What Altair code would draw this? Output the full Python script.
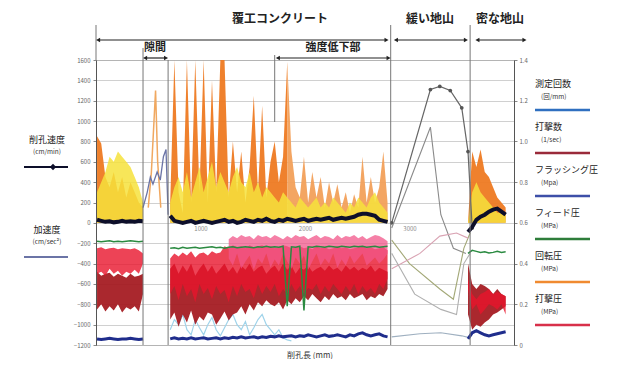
import altair as alt
import pandas as pd

FONT = "Noto Sans CJK JP"

# ---------------- data (x in mm, values on left-axis scale) ----------------
X_A = [10, 50, 90, 130, 170, 210, 250, 290, 330, 370, 410, 450]
X_B = list(range(710, 2800, 40))          # 53 points
X_C = [3560, 3600, 3640, 3680, 3720, 3760, 3800, 3840, 3880, 3920]
X_PINK = list(range(1270, 2800, 40))      # 39 points
X_CYAN = X_B[:30]

# 回転圧 (orange)
ORANGE_A = [850, 780, 450, 350, 500, 300, 450, 250, 400, 300, 200, 150]
ORANGE_B = [200, 1600, 300, 100, 1600, 200, 1600, 300, 1600, 200,
            1400, 300, 1600, 1600, 250, 800, 300, 700, 200, 550,
            1250, 300, 1150, 250, 600, 800, 400, 650, 1580, 700,
            350, 250, 650, 200, 500, 250, 450, 150, 400, 200,
            380, 150, 300, 100, 280, 150, 650, 200, 450, 200,
            350, 700, 200]
ORANGE_C = [0, 700, 550, 720, 500, 450, 350, 250, 200, 150]
GAP_ORANGE_X = [500, 530, 555, 570, 590, 620]
GAP_ORANGE_V = [150, 500, 1000, 1300, 600, 150]

# yellow
YELLOW_A = [300, 400, 500, 650, 600, 700, 650, 600, 550, 450, 350, 200]
YELLOW_B = [200, 350, 450, 300, 500, 250, 400, 550, 300, 450,
            600, 350, 500, 400, 300, 450, 550, 400, 350, 500,
            300, 400, 250, 350, 300, 250, 200, 300, 250, 200,
            150, 250, 200, 150, 200, 250, 150, 200, 150, 250,
            200, 150, 100, 200, 150, 250, 200, 150, 250, 300,
            200, 150, 100]
YELLOW_C = [0, 300, 400, 300, 250, 200, 150, 100, 100, 80]

# 削孔速度 (black)
BLACK_A = [30, 20, 10, 15, 5, 10, 20, 10, 15, 10, 20, 15]
BLACK_B = [70, 20, 10, 0, 10, 20, 0, 10, 20, 10,
           0, 10, 20, 30, 10, 20, 0, 10, 30, 20,
           10, 30, 20, 40, 20, 10, 30, 20, 40, 30,
           20, 30, 40, 20, 30, 40, 30, 40, 50, 30,
           40, 50, 40, 50, 60, 80, 90, 90, 80, 70,
           30, 20, 10]
BLACK_C = [-90, -40, 30, 60, 80, 110, 130, 140, 110, 80]

# フィード圧 (green)
GREEN_A = [-180, -185, -180, -175, -185, -180, -185, -180, -175, -180, -185, -180]
GREEN_B = [-250, -245, -255, -240, -250, -245, -240, -250, -245, -240,
           -235, -245, -240, -250, -240, -235, -245, -240, -235, -240,
           -245, -235, -240, -230, -240, -235, -240, -230, -820, -235,
           -240, -230, -860, -235, -240, -230, -235, -240, -230, -235,
           -240, -230, -235, -240, -230, -235, -230, -240, -235, -230,
           -240, -235, -230]
GREEN_C = [-300, -270, -280, -290, -285, -295, -290, -280, -290, -285]

# 打撃圧 (red band)
RED_A_HI = [-250, -240, -260, -250, -245, -260, -250, -255, -260, -250, -270, -300]
RED_A_LO = [-500, -480, -520, -450, -500, -470, -520, -480, -500, -460, -500, -400]
RED_B_HI = [-350, -300, -330, -290, -320, -280, -340, -300, -290, -320,
            -280, -300, -290, -230, -250, -220, -240, -230, -250, -220,
            -240, -230, -220, -240, -230, -250, -240, -220, -230, -250,
            -240, -230, -250, -240, -260, -230, -250, -240, -260, -250,
            -230, -250, -240, -260, -250, -240, -230, -250, -240, -260,
            -250, -240, -270]
RED_B_LO = [-700, -620, -760, -600, -720, -650, -780, -600, -700, -640,
            -750, -620, -700, -660, -780, -620, -720, -600, -680, -650,
            -740, -600, -700, -620, -680, -600, -720, -650, -700, -600,
            -680, -620, -700, -640, -660, -600, -700, -620, -680, -600,
            -650, -700, -620, -680, -600, -700, -620, -680, -640, -700,
            -600, -650, -550]
RED_C_HI = [-550, -700, -750, -700, -680, -650, -700, -680, -700, -720]
RED_C_LO = [-650, -850, -800, -900, -850, -800, -820, -850, -800, -900]

# 打撃数 (dark red band)
DRED_A_HI = [-480, -520, -500, -490, -530, -500, -520, -540, -500, -530, -520, -500]
DRED_A_LO = [-850, -800, -870, -820, -860, -800, -880, -830, -850, -820, -870, -700]
DRED_B_HI = [-450, -400, -500, -420, -480, -400, -520, -450, -400, -480,
             -420, -500, -450, -400, -480, -430, -500, -420, -460, -400,
             -480, -440, -420, -500, -450, -420, -480, -400, -460, -420,
             -500, -440, -460, -420, -480, -450, -430, -470, -420, -460,
             -440, -480, -420, -460, -430, -470, -440, -460, -420, -480,
             -440, -460, -480]
DRED_B_LO = [-950, -880, -1020, -900, -980, -860, -1000, -920, -960, -880,
             -900, -1000, -940, -870, -960, -900, -880, -820, -900, -800,
             -860, -780, -820, -760, -800, -820, -780, -850, -760, -800,
             -740, -780, -720, -760, -700, -740, -780, -720, -760, -700,
             -740, -720, -760, -700, -740, -720, -700, -760, -720, -740,
             -700, -720, -650]
DRED_C_HI = [-400, -600, -650, -600, -620, -650, -700, -650, -700, -720]
DRED_C_LO = [-900, -1050, -1000, -1020, -980, -950, -900, -880, -850, -820]

# pink band (強度低下部)
PINK_HI = [-160, -130, -150, -120, -140, -130, -160, -120, -140, -130,
           -150, -120, -140, -160, -130, -150, -120, -140, -130, -160,
           -140, -120, -150, -130, -140, -160, -120, -150, -130, -140,
           -120, -150, -130, -160, -140, -120, -130, -150, -180]
PINK_LO = [-350, -420, -300, -450, -380, -320, -460, -350, -400, -300,
           -440, -360, -420, -300, -380, -450, -340, -400, -320, -460,
           -380, -300, -420, -350, -400, -300, -440, -360, -420, -320,
           -400, -350, -300, -420, -380, -340, -400, -360, -300]

# 測定回数 (blue, bottom)
BLUE_A = [-1140, -1145, -1140, -1135, -1140, -1145, -1140, -1140, -1135, -1140, -1145, -1140]
BLUE_B = [-1140, -1130, -1140, -1135, -1140, -1130, -1140, -1135, -1130, -1140,
          -1135, -1130, -1140, -1130, -1135, -1125, -1130, -1120, -1130, -1125,
          -1120, -1130, -1120, -1125, -1115, -1120, -1110, -1120, -1115, -1110,
          -1120, -1110, -1115, -1100, -1110, -1120, -1110, -1100, -1115, -1110,
          -1100, -1110, -1120, -1100, -1110, -1090, -1080, -1100, -1110, -1100,
          -1090, -1110, -1120]
BLUE_C = [-1140, -1080, -1060, -1080, -1100, -1110, -1100, -1090, -1080, -1070]

# light blue trace
CYAN = [-1050, -950, -1000, -900, -1050, -1100, -950, -1030, -1100, -1000,
        -930, -1050, -1110, -1030, -950, -900, -1000, -1050, -970, -1100,
        -1030, -950, -900, -1000, -1050, -1100, -1050, -1130, -1150, -1160]

# 加速度 (gray-blue) in the gap
ACC_X = [450, 490, 520, 545, 585, 615, 645, 670, 690]
ACC_V = [150, 300, 450, 380, 500, 420, 650, 720, 80]

# gray traces in 緩い地山
GRAY_LINES = {
    "a": ([2830, 3200, 3290, 3390, 3500, 3560, 3600], [0, 1310, 1340, 1300, 1130, 700, -50]),
    "b": ([2830, 3200, 3300, 3420, 3540], [-50, 940, 80, -250, -300]),
    "c": ([2830, 3000, 3290, 3420, 3520, 3580], [-170, -400, -650, -750, -250, -100]),
    "d": ([2830, 3100, 3290, 3450, 3560], [-450, -300, -130, -100, -150]),
    "e": ([2830, 3050, 3300, 3450, 3520, 3580], [-300, -700, -850, -900, -400, -300]),
    "f": ([2830, 3100, 3300, 3500, 3580], [-1120, -1090, -1080, -1110, -1130]),
}
GRAY_COLORS = {"a": "#666666", "b": "#8a8a8a", "c": "#a3a877", "d": "#d9a3b3", "e": "#b0b0b0", "f": "#9fb0c0"}

Y_TICKS = [-1200, -1000, -800, -600, -400, -200, 0, 200, 400, 600, 800, 1000, 1200, 1400, 1600]
R_TICKS = [0, 0.2, 0.4, 0.6, 0.8, 1.0, 1.2, 1.4]
X_TICKS = [1000, 2000, 3000]

TOP_LABELS = ["覆工コンクリート", "緩い地山", "密な地山"]
TOP_X = [1761, 3196, 3866]
SUB_LABELS = ["隙間", "強度低下部"]
SUB_X = [565, 2268]
SECTION_LINES = [0, 450, 690, 1710, 2820, 3580]
SPANS = [(20, 2780, -20), (2870, 3540, -20), (3650, 4100, -20), (470, 670, -2), (1740, 2800, -2)]

R_LABELS = ["測定回数", "打撃数", "フラッシング圧", "フィード圧", "回転圧", "打撃圧"]
R_UNITS = ["(回/mm)", "(1/sec)", "(Mpa)", "(MPa)", "(MPa)", "(MPa)"]
R_COLORS = ["#2f6fc0", "#9a2a3a", "#3d4fa8", "#2e7d3a", "#f08a30", "#d8304a"]

# ---------------- chart ----------------
W, H = 418, 285
xscale = alt.Scale(domain=[0, 4000], nice=False, zero=False)
yscale = alt.Scale(domain=[-1200, 1600], nice=False, zero=False)

XAX = alt.Axis(values=X_TICKS, offset=-122, domain=False, ticks=False, labelFontSize=6, format="d",
               labelColor="#8a8a8a", grid=False, title=None, labelPadding=2, labelFlush=False)
YAX = alt.Axis(values=Y_TICKS, title=None, labelFontSize=6, labelColor="#666", tickSize=3, format="d",
               tickColor="#888", domainColor="#555", grid=True, gridColor="#c4c4c4",
               gridWidth=0.8, labelPadding=3)


def X(field="mm"):
    return alt.X(f"{field}:Q", scale=xscale, axis=XAX)


def Y(field="v"):
    return alt.Y(f"{field}:Q", scale=yscale, axis=YAX)


def line_df(xs, vs):
    return pd.DataFrame({"mm": list(xs)[:len(vs)], "v": list(vs)[:len(xs)]})


def line_layer(xs, vs, color, width, opacity=1.0):
    return alt.Chart(line_df(xs, vs)).mark_line(color=color, strokeWidth=width, opacity=opacity).encode(
        x=X(), y=Y())


def fill_layer(xs, vs, color, opacity=1.0):
    df = line_df(xs, vs)
    df["base"] = 0
    return alt.Chart(df).mark_area(color=color, opacity=opacity, line=False).encode(
        x=X(), y=Y(), y2=alt.Y2("base"))


def band_layer(xs, his, los, color, opacity=1.0):
    n = min(len(xs), len(his), len(los))
    df = pd.DataFrame({"mm": list(xs)[:n], "hi": list(his)[:n], "lo": list(los)[:n]})
    return alt.Chart(df).mark_area(color=color, opacity=opacity).encode(
        x=X(), y=Y("hi"), y2=alt.Y2("lo"))


layers = []
for xs, vs in [(X_A, ORANGE_A), (X_B[:29], ORANGE_B[:29]), (X_C, ORANGE_C)]:
    layers.append(fill_layer(xs, vs, "#ee7a22", 0.95))
layers.append(fill_layer(X_B[28:], ORANGE_B[28:], "#f2a05a", 0.95))
layers.append(line_layer(GAP_ORANGE_X, GAP_ORANGE_V, "#f0a860", 1.5))
for xs, vs in [(X_A, YELLOW_A), (X_B, YELLOW_B), (X_C, YELLOW_C)]:
    layers.append(fill_layer(xs, vs, "#f6e23c", 0.85))
for k, (gx, gv) in GRAY_LINES.items():
    if k == "a":
        layers.append(alt.Chart(line_df(gx, gv)).mark_line(
            color=GRAY_COLORS[k], strokeWidth=1.2,
            point=alt.OverlayMarkDef(filled=True, size=14, color="#555")).encode(x=X(), y=Y()))
    else:
        layers.append(line_layer(gx, gv, GRAY_COLORS[k], 1.1))
layers.append(line_layer(ACC_X, ACC_V, "#6b74a6", 1.3))
layers.append(line_layer(X_CYAN, CYAN, "#9fd3ea", 1.2))
for xs, vs in [(X_A, BLUE_A), (X_B, BLUE_B), (X_C, BLUE_C)]:
    layers.append(line_layer(xs, vs, "#1f2d8c", 3))
for xs, hi, lo in [(X_A, DRED_A_HI, DRED_A_LO), (X_B, DRED_B_HI, DRED_B_LO), (X_C, DRED_C_HI, DRED_C_LO)]:
    layers.append(band_layer(xs, hi, lo, "#a3161c", 0.92))
for xs, hi, lo in [(X_A, RED_A_HI, RED_A_LO), (X_B, RED_B_HI, RED_B_LO), (X_C, RED_C_HI, RED_C_LO)]:
    layers.append(band_layer(xs, hi, lo, "#e8142c", 0.8))
layers.append(band_layer(X_PINK, PINK_HI, PINK_LO, "#f2558a", 0.75))
for xs, vs in [(X_A, GREEN_A), (X_B, GREEN_B), (X_C, GREEN_C)]:
    layers.append(line_layer(xs, vs, "#2a8a40", 1.5))
for xs, vs in [(X_A, BLACK_A), (X_B, BLACK_B), (X_C, BLACK_C)]:
    layers.append(line_layer(xs, vs, "#0d0f2a", 4))

# section lines
sec_top = [-35, -12, 0, -5, -35, -35]
sec_bot = [0, 285, 285, 62, 285, 285]
for mm, t, b in zip(SECTION_LINES, sec_top, sec_bot):
    layers.append(alt.Chart(pd.DataFrame({"mm": [mm]})).mark_rule(color="#777", strokeWidth=1).encode(
        x=X(), y=alt.value(t), y2=alt.value(b)))

# arrows
for x1, x2, py in SPANS:
    d = pd.DataFrame({"mm": [x1], "mm2": [x2]})
    layers.append(alt.Chart(d).mark_rule(color="#222", strokeWidth=1.2).encode(
        x=X(), x2=alt.X2("mm2"), y=alt.value(py)))
    layers.append(alt.Chart(pd.DataFrame({"mm": [x1]})).mark_point(
        shape="triangle-left", filled=True, color="#222", size=22, opacity=1).encode(x=X(), y=alt.value(py)))
    layers.append(alt.Chart(pd.DataFrame({"mm": [x2]})).mark_point(
        shape="triangle-right", filled=True, color="#222", size=22, opacity=1).encode(x=X(), y=alt.value(py)))

# section labels
layers.append(alt.Chart(pd.DataFrame({"mm": TOP_X, "label": TOP_LABELS})).mark_text(
    font=FONT, fontSize=12, fontWeight="bold", color="#222").encode(x=X(), y=alt.value(-41), text="label:N"))
layers.append(alt.Chart(pd.DataFrame({"mm": SUB_X, "label": SUB_LABELS})).mark_text(
    font=FONT, fontSize=11, fontWeight="bold", color="#222").encode(x=X(), y=alt.value(-12), text="label:N"))

one = pd.DataFrame({"a": [0]})

# left legend
left_items = [("削孔速度", "(cm/min)", "#0d0f2a", 80), ("加速度", "(cm/sec²)", "#6b74a6", 170)]
for lab, unit, col, y0 in left_items:
    layers.append(alt.Chart(one).mark_text(text=lab, font=FONT, fontSize=9, color="#222").encode(
        x=alt.value(-49), y=alt.value(y0)))
    layers.append(alt.Chart(one).mark_text(text=unit, font=FONT, fontSize=6.5, color="#333").encode(
        x=alt.value(-49), y=alt.value(y0 + 12)))
    layers.append(alt.Chart(one).mark_rule(color=col, strokeWidth=2.2).encode(
        x=alt.value(-72), x2=alt.value(-28), y=alt.value(y0 + 27)))
layers.append(alt.Chart(one).mark_point(shape="diamond", filled=True, color="#0d0f2a", size=40, opacity=1).encode(
    x=alt.value(-43), y=alt.value(107)))

# right legend
for i, (lab, unit, col) in enumerate(zip(R_LABELS, R_UNITS, R_COLORS)):
    y0 = 24 + i * 43
    layers.append(alt.Chart(one).mark_text(text=lab, font=FONT, fontSize=9, color="#222", align="left").encode(
        x=alt.value(439), y=alt.value(y0)))
    layers.append(alt.Chart(one).mark_text(text=unit, font=FONT, fontSize=6.5, color="#333", align="left").encode(
        x=alt.value(445), y=alt.value(y0 + 13)))
    layers.append(alt.Chart(one).mark_rule(color=col, strokeWidth=2.5).encode(
        x=alt.value(439), x2=alt.value(494), y=alt.value(y0 + 26)))

# x title
layers.append(alt.Chart(one).mark_text(text="削孔長 (mm)", font=FONT, fontSize=8, color="#333").encode(
    x=alt.value(214), y=alt.value(296)))

left_group = alt.layer(*layers)

right_axis = alt.Chart(pd.DataFrame({"r": [0, 1.4]})).mark_point(opacity=0).encode(
    y=alt.Y("r:Q", scale=alt.Scale(domain=[0, 1.4], nice=False, zero=False),
            axis=alt.Axis(orient="right", values=R_TICKS, title=None, grid=False, labelFontSize=6,
                          labelColor="#666", tickSize=3, tickColor="#888", domainColor="#555",
                          labelExpr="datum.value == 0 ? '0' : format(datum.value, '.1f')")))

chart = alt.layer(left_group, right_axis).resolve_scale(y="independent").properties(
    width=W, height=H,
    padding={"left": 88, "top": 52, "right": 100, "bottom": 14},
    autosize=alt.AutoSizeParams(type="none"),
    background="white",
).configure_view(stroke="#777", strokeWidth=1).configure_axis(labelFont=FONT)

chart.save("out.html", embed_options={"renderer": "svg", "actions": False})
